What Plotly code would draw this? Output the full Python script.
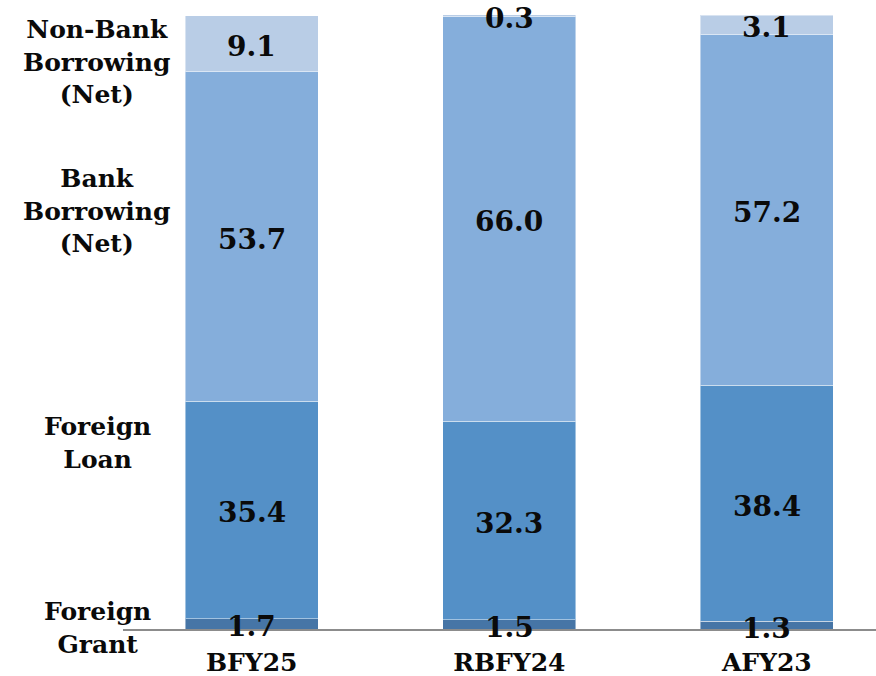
import plotly.graph_objects as go

categories = ["BFY25", "RBFY24", "AFY23"]
foreign_grant = [1.7, 1.5, 1.3]
foreign_loan = [35.4, 32.3, 38.4]
bank_borrowing = [53.7, 66.0, 57.2]
nonbank_borrowing = [9.1, 0.3, 3.1]

series = [
    ("Foreign<br>Grant", foreign_grant, "#4675A6"),
    ("Foreign<br>Loan", foreign_loan, "#5490C7"),
    ("Bank<br>Borrowing<br>(Net)", bank_borrowing, "#85AEDB"),
    ("Non-Bank<br>Borrowing<br>(Net)", nonbank_borrowing, "#B9CDE6"),
]

FONT = "Georgia, 'DejaVu Serif', serif"

fig = go.Figure()
for name, vals, color in series:
    fig.add_trace(go.Bar(
        x=categories, y=vals, name=name,
        marker=dict(color=color, line=dict(color="rgba(255,255,255,0.45)", width=1)),
        width=0.517,
    ))

annotations = []
cum = [0.0] * len(categories)
for name, vals, color in series:
    for i, v in enumerate(vals):
        mid = cum[i] + v / 2
        annotations.append(dict(
            x=categories[i], y=mid, xref="x", yref="y",
            text=f"{v:.1f}", showarrow=False, yshift=-3,
            font=dict(family=FONT, size=28, color="#0a0a0a", weight=700),
            xanchor="center", yanchor="middle",
        ))
        cum[i] += v

left_label_pos = [0.0016, 0.303, 0.681, 0.923]
for (name, vals, color), ypos in zip(series, left_label_pos):
    annotations.append(dict(
        x=-0.0345, y=ypos, xref="paper", yref="paper",
        text=name, showarrow=False, align="center",
        font=dict(family=FONT, size=25, color="#0a0a0a", weight=700),
        xanchor="center", yanchor="middle",
    ))

fig.update_layout(
    barmode="stack",
    width=876, height=676,
    margin=dict(l=123, r=0, t=15, b=47),
    paper_bgcolor="white", plot_bgcolor="white",
    showlegend=False,
    annotations=annotations,
    xaxis=dict(
        range=[-0.5, 2.424], showgrid=False, zeroline=False,
        showline=True, linecolor="#8c8c8c", linewidth=2,
        ticks="", ticklabelstandoff=10, automargin=False,
        tickfont=dict(family=FONT, size=25, color="#0a0a0a", weight=700),
    ),
    yaxis=dict(range=[0, 100], visible=False, showgrid=False, zeroline=False,
               automargin=False),
)

fig.write_html("out.html")
